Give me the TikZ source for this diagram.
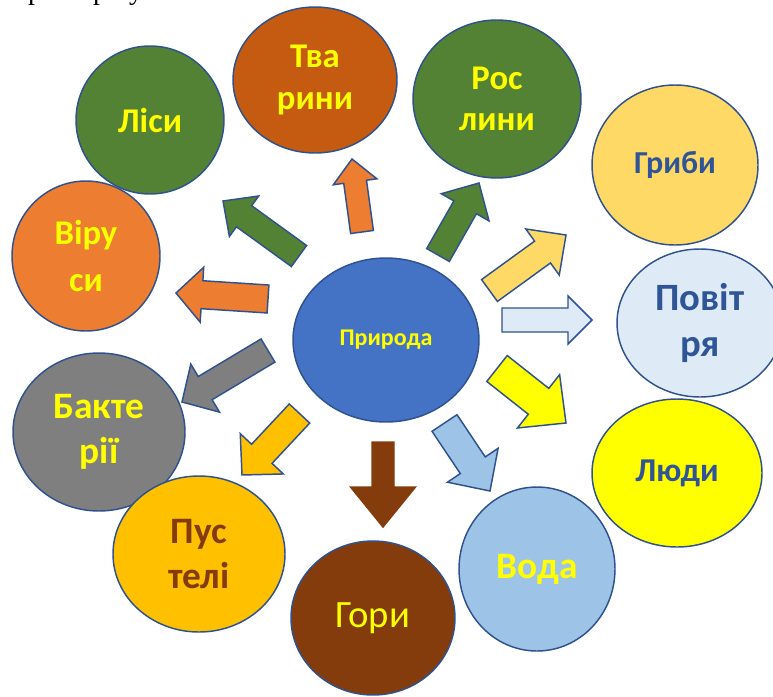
\documentclass[tikz,border=0pt]{standalone}
\usepackage{fontspec}
\setmainfont{Carlito}
\newfontfamily\serifpart{Liberation Serif}
\usetikzlibrary{shapes.geometric,calc}
\definecolor{outl}{HTML}{2F528F}
\definecolor{cgreen}{HTML}{548235}
\definecolor{cbrorange}{HTML}{C55A11}
\definecolor{corange}{HTML}{ED7D31}
\definecolor{cgold}{HTML}{FFD966}
\definecolor{cpale}{HTML}{DEEBF7}
\definecolor{cyel}{HTML}{FFFF00}
\definecolor{cwater}{HTML}{9DC3E6}
\definecolor{cbrown}{HTML}{843C0C}
\definecolor{camber}{HTML}{FFC000}
\definecolor{cgray}{HTML}{7F7F7F}
\definecolor{cblue}{HTML}{4472C4}
\definecolor{tblue}{HTML}{2F5597}
\tikzset{
  ell/.style n args={2}{ellipse, draw=outl, line width=1.1pt, inner sep=0pt,
    minimum width=#1*1.5pt, minimum height=#2*1.5pt, align=center},
  lab/.style={font=\fontsize{26}{31}\selectfont\bfseries, text=cyel},
  labblue/.style={font=\fontsize{25}{31}\selectfont\bfseries, text=tblue},
  barrow/.style={draw=outl, line width=1.1pt, fill=#1},
  frag/.style={font=\serifpart\fontsize{21}{25}\selectfont, anchor=base, inner sep=0pt},
}
\newcommand\blockarr[6]{%
  \pgfmathsetlengthmacro\arrS{#3*0.375pt}%
  \pgfmathsetlengthmacro\arrH{#4*0.375pt}%
  \pgfmathsetlengthmacro\arrL{#5*0.75pt}%
  \coordinate (#1-b) at ($(#2)!\arrL!(#1)$);
  \filldraw[#6] ($(#1)!\arrS!90:(#2)$) -- ($(#1-b)!\arrS!90:(#2)$)
    -- ($(#1-b)!\arrH!90:(#2)$) -- (#2) -- ($(#1-b)!\arrH!-90:(#2)$)
    -- ($(#1-b)!\arrS!-90:(#2)$) -- ($(#1)!\arrS!-90:(#2)$) -- cycle;
}
\begin{document}
\begin{tikzpicture}[x=0.75pt,y=-0.75pt]
\useasboundingbox (0,0) rectangle (773,696);
\begin{scope}
\clip (0,0) rectangle (773,696);
% cut-off text line at the top
\node[frag] (frA) at (35,-1) {р};
\node[frag] (frB) at (100,-1) {р};
\node[frag] (frC) at (136,-1) {у};

% circles
\node[ell={74}{74}, fill=cgreen, lab] (lisy) at (150,120) {Ліси};
\node[ell={82}{73}, fill=cbrorange, lab] (tvar) at (315,80) {Тва\\рини};
\node[ell={84}{79}, fill=cgreen, lab] (rosl) at (497,99) {Рос\\лини};
\node[ell={83}{80}, fill=cgold, labblue, font=\fontsize{24}{30}\selectfont\bfseries] (hryb) at (675,165) {Гриби};
\node[ell={83}{74}, fill=cpale, labblue, font=\fontsize{29}{35}\selectfont\bfseries] (povi) at (700,323) {Повіт\\ря};
\node[ell={85}{74}, fill=cyel, labblue] (lyud) at (677,473) {Люди};
\node[ell={78}{82}, fill=cwater, lab, font=\fontsize{28}{34}\selectfont\bfseries] (voda) at (537,569) {Вода};
\node[ell={82}{77}, fill=cbrown, text=cyel, font=\fontsize{29}{34}\selectfont] (hory) at (373,618) {Гори};
\node[ell={86}{79}, fill=cgray, lab, font=\fontsize{28}{34}\selectfont\bfseries] (bakt) at (99,432) {Бакте\\рії};
\node[ell={86}{78}, fill=camber, text=cbrown, font=\fontsize{28}{34}\selectfont\bfseries] (pust) at (199,554) {Пус\\телі};
\node[ell={74}{75}, fill=corange, lab, font=\fontsize{26}{35}\selectfont\bfseries] (viru) at (86,256) {Віру\\си};
\node[ell={93}{82}, fill=cblue, text=cyel, font=\fontsize{18}{21}\selectfont\bfseries] (pryr) at (386,340) {Природа};

% arrow end points
\coordinate (a1) at (362,232); \coordinate (a1p) at (352,159);
\coordinate (a2) at (299,256); \coordinate (a2p) at (223,201);
\coordinate (a3) at (438,255); \coordinate (a3p) at (479,183);
\coordinate (a4) at (268,299); \coordinate (a4p) at (176,293);
\coordinate (a5) at (489.5,290.5); \coordinate (a5p) at (566,235);
\coordinate (a6) at (502,320); \coordinate (a6p) at (592,320);
\coordinate (a7) at (497,368.5); \coordinate (a7p) at (566,423);
\coordinate (a8) at (444.5,423); \coordinate (a8p) at (490,491);
\coordinate (a9) at (383,442); \coordinate (a9p) at (383,527);
\coordinate (a10) at (299.5,413.5); \coordinate (a10p) at (242,475);
\coordinate (a11) at (268,350.5); \coordinate (a11p) at (182,402);

\blockarr{a1}{a1p}{23}{44}{23}{barrow=corange}
\blockarr{a2}{a2p}{26}{50}{26}{barrow=cgreen}
\blockarr{a3}{a3p}{26}{55}{28}{barrow=cgreen}
\blockarr{a4}{a4p}{28}{55}{26}{barrow=corange}
\blockarr{a5}{a5p}{27}{57}{29}{barrow=cgold}
\blockarr{a6}{a6p}{24}{48}{24}{barrow=cpale}
\blockarr{a7}{a7p}{33}{68}{35}{barrow=cyel}
\blockarr{a8}{a8p}{30}{61}{31}{barrow=cwater}
\blockarr{a9}{a9p}{22}{65}{40}{barrow=cbrown, draw=cbrown}
\blockarr{a10}{a10p}{28}{59}{29}{barrow=camber}
\blockarr{a11}{a11p}{27}{56}{27}{barrow=cgray}
\end{scope}
\end{tikzpicture}
\end{document}
